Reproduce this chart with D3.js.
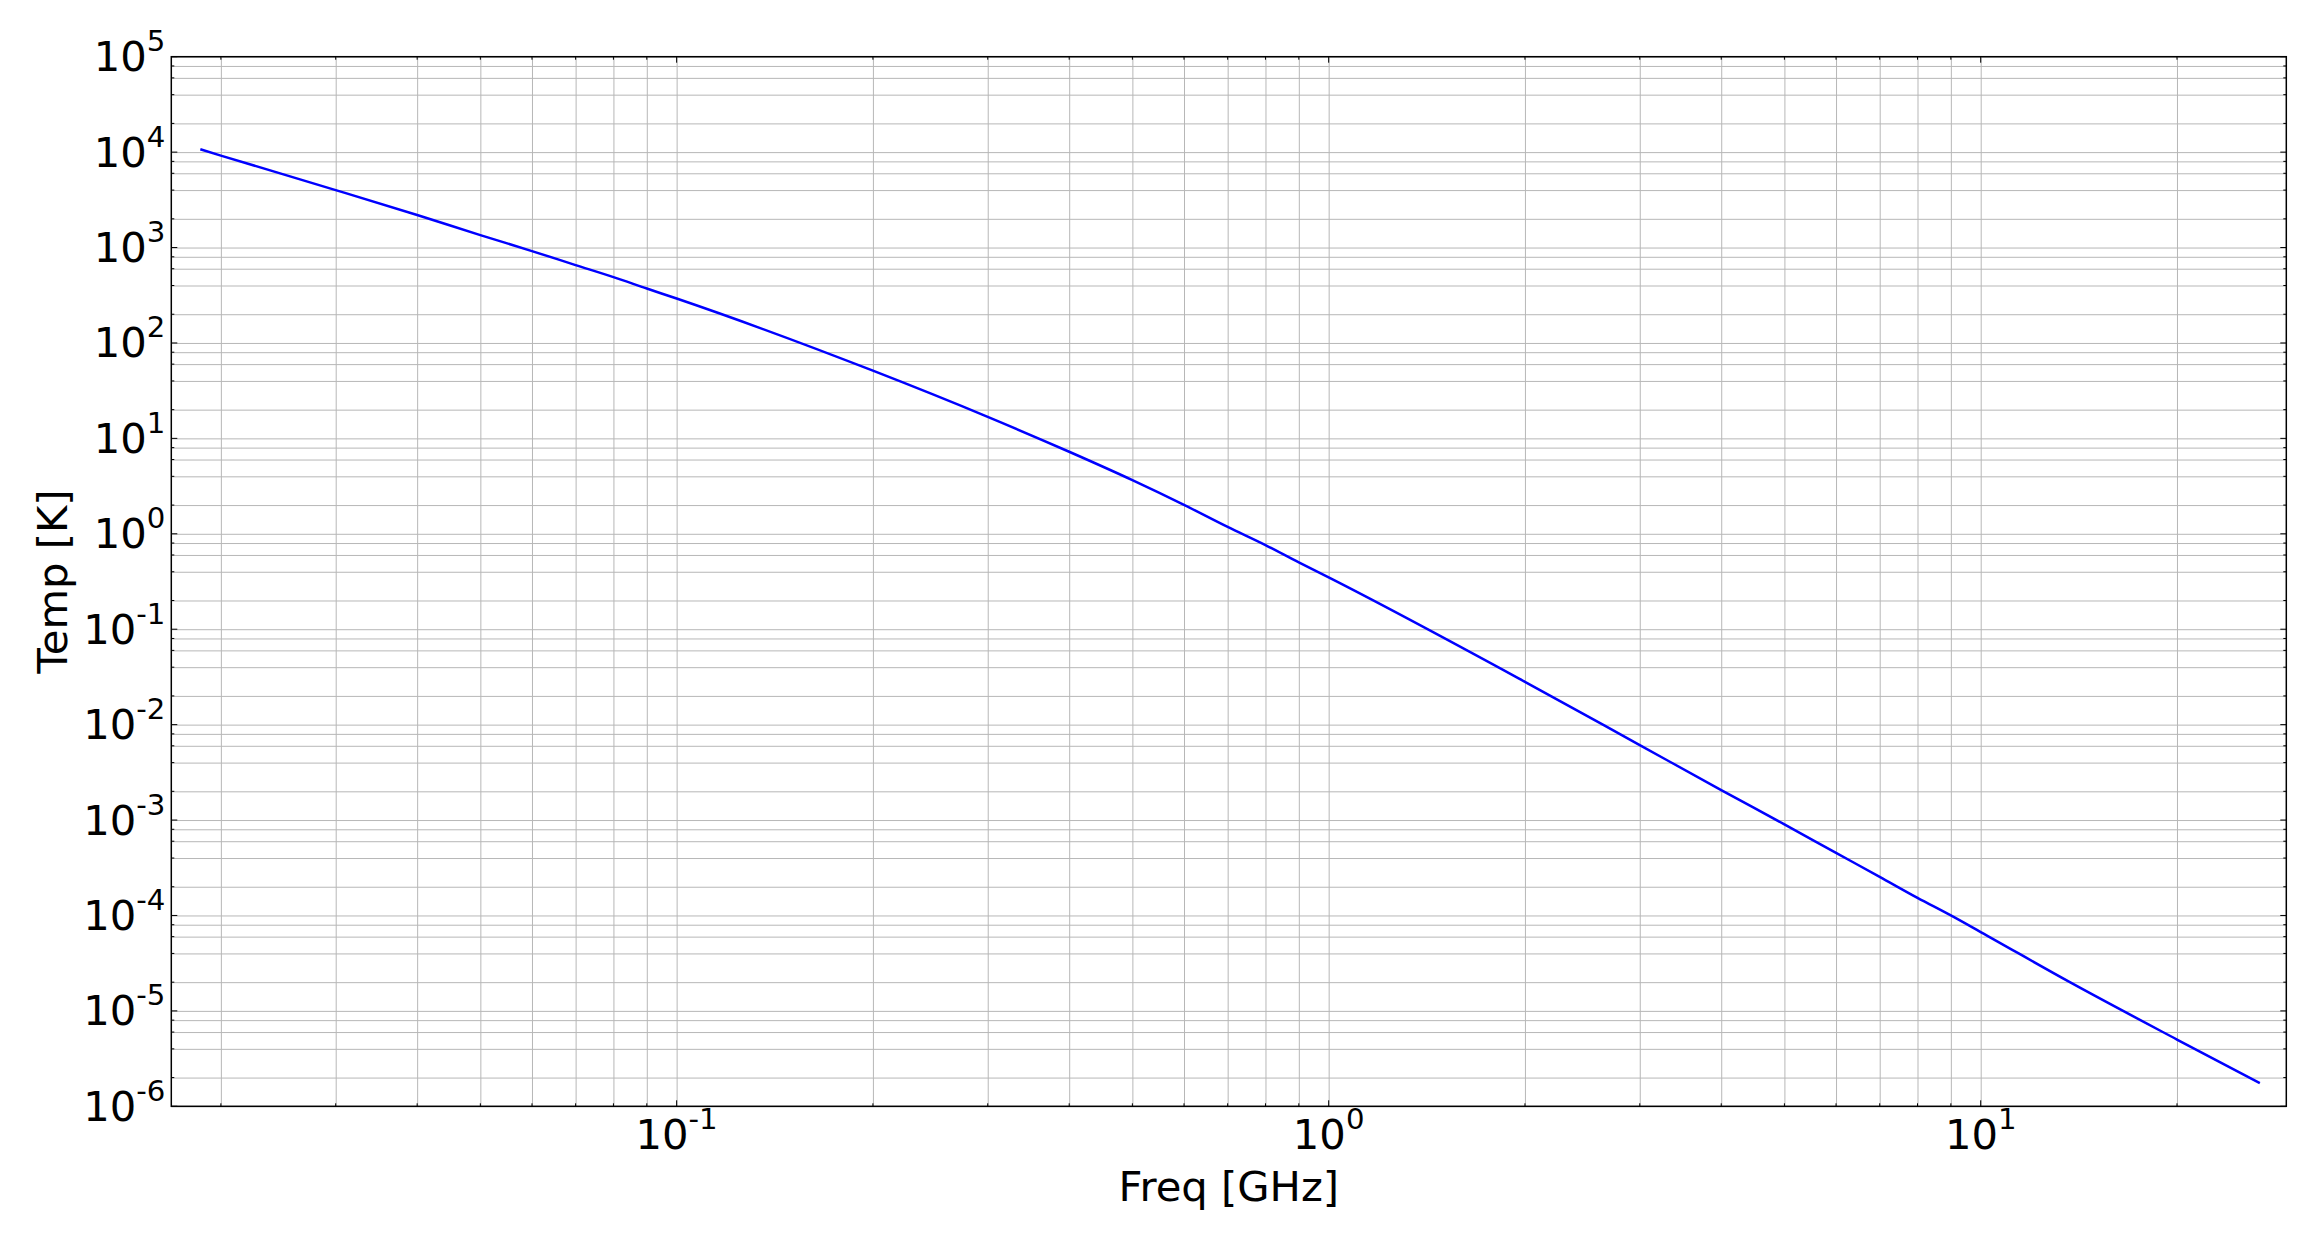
<!DOCTYPE html>
<html>
<head>
<meta charset="utf-8">
<script src="https://cdn.jsdelivr.net/npm/d3@7"></script>
<style>
	body { margin: 0; background: #fff; }
	text { font-family: 'DejaVu Sans', sans-serif; fill: #000; }
	.grid line { stroke: #b7b7b7; stroke-width: 1; }
	.grid path { display: none; }
</style>
</head>
<body>
<div id="chart"></div>
<script>
// values (Freq in GHz, Temp in K)
const freq = [0.0186, 0.02, 0.03, 0.04, 0.05, 0.06, 0.07, 0.08, 0.09, 0.1, 0.2, 0.3, 0.4, 0.5, 0.6, 0.7, 0.8, 0.9, 1, 2, 3, 4, 5, 6, 7, 8, 9, 10, 13.7, 20, 26.8];
const temp = [1.07e4, 9.2e3, 4.0e3, 2.19e3, 1.35e3, 918, 655, 490, 372, 292, 51.2, 16.8, 7.24, 3.65, 2.01, 1.18, 0.762, 0.501, 0.349, 0.0281, 6.1e-3, 2.06e-3, 9.0e-4, 4.53e-4, 2.54e-4, 1.53e-4, 1.0e-4, 6.7e-5, 2.0e-5, 5.01e-6, 1.75e-6];

const xExponents = [-1, 0, 1];
const yExponents = [5, 4, 3, 2, 1, 0, -1, -2, -3, -4, -5, -6];
const xSubs = [2, 3, 4, 5, 6, 7, 8, 9];
const ySubs = [2, 4, 6, 8];

const W = 2318, H = 1242;
const margin = { top: 56.7, right: W - 2286.3, bottom: H - 1106.3, left: 171.3 };
const width = W - margin.left - margin.right;
const height = H - margin.top - margin.bottom;

const svg = d3.select('#chart')
	.append('svg')
	.attr('width', W)
	.attr('height', H)
	.append('g')
	.attr('transform', 'translate(' + margin.left + ',' + margin.top + ')');

const x = d3.scaleLog().domain([Math.pow(10, -1.775), Math.pow(10, 1.4687)]).range([0, width]);
const y = d3.scaleLog().domain([1e-6, 1e5]).range([height, 0]);

// grid values (majors + minors inside the domain)
const inDom = (s, v) => v >= s.domain()[0] * 0.9999 && v <= s.domain()[1] * 1.0001;
const xMinor = [], xMajor = [];
for (let e = -2; e <= 1; e++) {
	xMajor.push(Math.pow(10, e));
	xSubs.forEach((s) => xMinor.push(s * Math.pow(10, e)));
}
const yMinor = [], yMajor = [];
for (let e = -6; e <= 5; e++) {
	yMajor.push(Math.pow(10, e));
	if (e < 5) ySubs.forEach((s) => yMinor.push(s * Math.pow(10, e)));
}
const xGridVals = xMajor.concat(xMinor).filter((v) => inDom(x, v));
const yGridVals = yMajor.concat(yMinor).filter((v) => inDom(y, v));

svg.append('g')
	.attr('class', 'grid')
	.attr('transform', 'translate(0,' + height + ')')
	.call(d3.axisBottom(x).tickValues(xGridVals).tickSize(-height).tickFormat(''));

svg.append('g')
	.attr('class', 'grid')
	.call(d3.axisLeft(y).tickValues(yGridVals).tickSize(-width).tickFormat(''));

// the curve
const line = d3.line()
	.x((d, i) => x(freq[i]))
	.y((d, i) => y(temp[i]))
	.curve(d3.curveMonotoneX);

svg.append('path')
	.datum(temp)
	.attr('fill', 'none')
	.attr('stroke', '#0000ff')
	.attr('stroke-width', 2.5)
	.attr('d', line);

// ticks, inward on all four sides
const tickG = svg.append('g').attr('stroke', '#000').attr('stroke-width', 1);
xGridVals.forEach((v) => {
	const len = xMajor.includes(v) ? 6 : 3;
	tickG.append('line').attr('x1', x(v)).attr('x2', x(v)).attr('y1', height).attr('y2', height - len);
	tickG.append('line').attr('x1', x(v)).attr('x2', x(v)).attr('y1', 0).attr('y2', len);
});
yGridVals.forEach((v) => {
	const len = yMajor.includes(v) ? 6 : 3;
	tickG.append('line').attr('y1', y(v)).attr('y2', y(v)).attr('x1', 0).attr('x2', len);
	tickG.append('line').attr('y1', y(v)).attr('y2', y(v)).attr('x1', width).attr('x2', width - len);
});

// frame
svg.append('rect')
	.attr('width', width)
	.attr('height', height)
	.attr('fill', 'none')
	.attr('stroke', '#000')
	.attr('stroke-width', 1.5);

// tick labels 10^n
const power = (sel, e) => {
	sel.append('tspan').text('10');
	sel.append('tspan').attr('dy', -20).style('font-size', '29.2px').text(String(e));
};

xExponents.forEach((e) => {
	svg.append('text')
		.attr('x', x(Math.pow(10, e)))
		.attr('y', height + 43)
		.attr('text-anchor', 'middle')
		.style('font-size', '41.7px')
		.call(power, e);
});

yExponents.forEach((e) => {
	svg.append('text')
		.attr('x', -6)
		.attr('y', y(Math.pow(10, e)) + 14.5)
		.attr('text-anchor', 'end')
		.style('font-size', '41.7px')
		.call(power, e);
});

// axis titles
svg.append('text')
	.attr('x', width / 2)
	.attr('y', height + 95)
	.attr('text-anchor', 'middle')
	.style('font-size', '41.7px')
	.text('Freq [GHz]');

svg.append('text')
	.attr('transform', 'translate(' + (67 - margin.left) + ',' + height / 2 + ')rotate(-90)')
	.attr('text-anchor', 'middle')
	.style('font-size', '41.7px')
	.text('Temp [K]');
</script>
</body>
</html>
